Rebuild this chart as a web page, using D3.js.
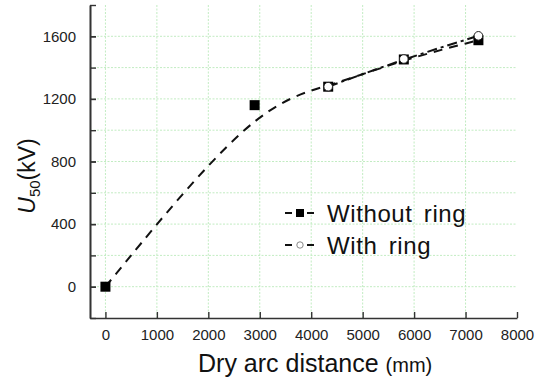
<!DOCTYPE html>
<html>
<head>
<meta charset="utf-8">
<script src="https://cdn.jsdelivr.net/npm/d3@7"></script>
<style>
  html, body { margin: 0; padding: 0; background: #fff; }
  svg { display: block; font-family: "Liberation Sans", Arial, sans-serif; }
</style>
</head>
<body>
<svg id="chart" width="541" height="378"></svg>
<script>
// ---- data ----
const withoutRingX = [0, 2900, 4330, 5800, 7250];
const withoutRingY = [0, 1160, 1278, 1452, 1575];
const withRingX = [4330, 5800, 7250];
const withRingY = [1278, 1455, 1603];
const xTickValues = [0, 1000, 2000, 3000, 4000, 5000, 6000, 7000, 8000];
const yTickValues = [0, 400, 800, 1200, 1600];
const yMinorTickValues = [-200, 0, 200, 400, 600, 800, 1000, 1200, 1400, 1600, 1800];
const seriesNames = ["Without ring", "With ring"];

const svg = d3.select("#chart");
const x = d3.scaleLinear().domain([-300, 8000]).range([90, 517]);
const y = d3.scaleLinear().domain([-200, 1800]).range([318, 5]);

// grid
const grid = svg.append("g");
grid.selectAll("line.v").data(xTickValues.filter(d => d < 8000)).join("line")
  .attr("x1", d => x(d)).attr("x2", d => x(d))
  .attr("y1", y(1800)).attr("y2", y(-200))
  .attr("stroke", "#c2ecc2").attr("stroke-width", 1).attr("stroke-dasharray", "2,1.5");
grid.selectAll("line.h").data(yMinorTickValues.filter(d => d > -200 && d < 1800)).join("line")
  .attr("x1", x(-300)).attr("x2", x(8000))
  .attr("y1", d => y(d)).attr("y2", d => y(d))
  .attr("stroke", "#c2ecc2").attr("stroke-width", 1).attr("stroke-dasharray", "2,1.5");

// axes
const xAxis = svg.append("g").attr("transform", `translate(0,${y(-200)})`)
  .call(d3.axisBottom(x).tickValues(xTickValues).tickSizeInner(-6).tickSizeOuter(0).tickPadding(14).tickFormat(d3.format("d")));
const yAxisMinor = svg.append("g").attr("transform", `translate(${x(-300)},0)`)
  .call(d3.axisLeft(y).tickValues(yMinorTickValues).tickSizeInner(-6).tickSizeOuter(0).tickFormat(""));
const yAxis = svg.append("g").attr("transform", `translate(${x(-300)},0)`)
  .call(d3.axisLeft(y).tickValues(yTickValues).tickSizeInner(-6).tickSizeOuter(0).tickPadding(14).tickFormat(d3.format("d")));
[xAxis, yAxis, yAxisMinor].forEach(g => {
  g.select(".domain").attr("stroke", "#333").attr("stroke-width", 1.6);
  g.selectAll(".tick line").attr("stroke", "#333").attr("stroke-width", 1.4);
  g.selectAll(".tick text").attr("font-size", 15).attr("fill", "#222")
    .attr("font-family", "Liberation Sans, Arial, sans-serif");
});
xAxis.selectAll(".tick text").attr("dy", "0.5em");

// lines
const line = d3.line().x(d => x(d[0])).y(d => y(d[1])).curve(d3.curveBasis);
const wo = withoutRingX.map((d, i) => [d, withoutRingY[i]]);
const wr = withRingX.map((d, i) => [d, withRingY[i]]);
svg.append("path").datum(wo).attr("d", line).attr("fill", "none")
  .attr("stroke", "#111").attr("stroke-width", 2).attr("stroke-dasharray", "9,7");
svg.append("path").datum(wr).attr("d", line).attr("fill", "none")
  .attr("stroke", "#111").attr("stroke-width", 2).attr("stroke-dasharray", "10,4,3,4");

// markers
svg.selectAll("rect.m").data(wo).join("rect")
  .attr("x", d => x(d[0]) - 5).attr("y", d => y(d[1]) - 5)
  .attr("width", 10).attr("height", 10).attr("fill", "#000");
svg.selectAll("circle.m").data(wr).join("circle")
  .attr("cx", d => x(d[0])).attr("cy", d => y(d[1])).attr("r", 4.3)
  .attr("fill", "#fff").attr("stroke", "#222").attr("stroke-width", 1);

// legend
const leg = svg.append("g");
const rows = [{y: 213, name: seriesNames[0]}, {y: 245, name: seriesNames[1]}];
rows.forEach((r, i) => {
  leg.append("line").attr("x1", 285).attr("x2", 292).attr("y1", r.y).attr("y2", r.y)
    .attr("stroke", "#111").attr("stroke-width", 2);
  leg.append("line").attr("x1", 307).attr("x2", 314).attr("y1", r.y).attr("y2", r.y)
    .attr("stroke", "#111").attr("stroke-width", 2);
  if (i === 0) {
    leg.append("rect").attr("x", 296).attr("y", r.y - 4).attr("width", 8).attr("height", 8).attr("fill", "#000");
  } else {
    leg.append("circle").attr("cx", 300).attr("cy", r.y).attr("r", 3.2)
      .attr("fill", "#fff").attr("stroke", "#888").attr("stroke-width", 1);
  }
  leg.append("text").attr("x", 327).attr("y", r.y + 9).attr("font-size", 24)
    .attr("fill", "#111").attr("letter-spacing", "0.6").attr("word-spacing", "4").text(r.name);
});

// axis titles
const xt = svg.append("text").attr("x", 198).attr("y", 372).attr("fill", "#111");
xt.append("tspan").attr("font-size", 25).text("Dry arc distance ");
xt.append("tspan").attr("font-size", 20).text("(mm)");

const yt = svg.append("text").attr("transform", "translate(35,176) rotate(-90)")
  .attr("text-anchor", "middle").attr("fill", "#111").attr("font-size", 23);
yt.append("tspan").attr("font-style", "italic").text("U");
yt.append("tspan").attr("font-size", 15).attr("dy", 5).text("50");
yt.append("tspan").attr("dy", -5).text("(kV)");
</script>
</body>
</html>
